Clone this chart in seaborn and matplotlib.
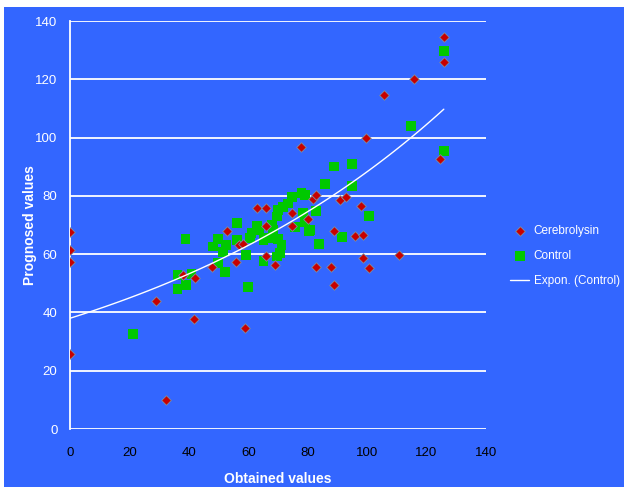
import numpy as np
import pandas as pd
import matplotlib.pyplot as plt
import seaborn as sns

# Cerebrolysin points (obtained, prognosed)
cere_x = [0, 0, 0, 0, 28.8, 32.2, 38.1, 42.1, 41.8, 47.7, 52.7, 56.0, 57.0, 58.3, 58.9,
          62.8, 65.9, 66.0, 69.0, 66.0, 74.7, 74.7, 77.9, 80.0, 81.9, 82.8, 82.8, 87.7,
          88.9, 88.9, 90.9, 92.8, 95.8, 97.8, 98.7, 98.7, 99.7, 100.7, 105.8, 110.8,
          115.7, 124.6, 125.8, 125.8]
cere_y = [67.5, 61.3, 57.2, 25.6, 44.0, 10.0, 53.0, 51.7, 37.6, 55.7, 67.9, 57.4, 63.1, 63.4, 34.6,
          75.7, 75.7, 59.4, 56.3, 69.7, 74.2, 69.8, 96.8, 72.2, 78.8, 80.3, 55.5, 55.7,
          49.4, 67.8, 78.5, 79.7, 66.1, 76.5, 66.7, 58.6, 99.9, 55.1, 114.6, 59.7,
          120.2, 92.8, 134.4, 126.0]

# Control points
ctrl_x = [21.1, 36.2, 36.2, 39.0, 40.9, 38.9, 48.2, 49.9, 52.5, 51.6, 49.9, 52.2, 56.1, 56.1,
          59.1, 60.0, 60.6, 61.1, 62.8, 63.7, 65.1, 66.7, 65.1, 67.9, 68.4, 69.6, 70.1, 71.8,
          73.5, 70.1, 71.2, 70.7, 69.6, 74.7, 77.9, 79.0, 75.7, 78.5, 79.1, 80.8, 82.8, 80.5,
          83.9, 85.7, 88.9, 91.6, 94.9, 94.9, 100.6, 114.8, 125.8, 125.8]
ctrl_y = [32.6, 52.8, 47.9, 49.4, 53.2, 65.1, 62.6, 65.1, 63.1, 60.8, 56.9, 53.8, 64.9, 70.8,
          59.7, 48.8, 65.4, 67.2, 69.7, 68.3, 64.9, 65.4, 57.7, 70.0, 68.3, 72.9, 75.2, 76.3,
          77.4, 65.1, 63.1, 60.3, 59.2, 79.7, 81.0, 80.3, 69.4, 74.0, 71.1, 68.3, 74.8, 67.9,
          63.5, 84.2, 90.1, 65.8, 90.9, 83.5, 73.1, 104.1, 129.7, 95.4]

# exponential trendline: y = a * exp(b * x)
trend_a = 38.0
trend_b = 0.00843

x_ticks = [0, 20, 40, 60, 80, 100, 120, 140]
y_ticks = [0, 20, 40, 60, 80, 100, 120, 140]

BLUE = "#3366FF"

cere = pd.DataFrame({"x": cere_x, "y": cere_y})
ctrl = pd.DataFrame({"x": ctrl_x, "y": ctrl_y})
tx = np.linspace(0, max(ctrl_x), 100)
trend = pd.DataFrame({"x": tx, "y": trend_a * np.exp(trend_b * tx)})

sns.set_style("white")
plt.rcParams["font.family"] = ["Liberation Sans", "DejaVu Sans"]

fig = plt.figure(figsize=(6.24, 4.87), dpi=100, facecolor="white")
fig.patches.append(plt.Rectangle((4 / 624, 0), 1, 480 / 487, transform=fig.transFigure,
                                 facecolor=BLUE, edgecolor="none", zorder=-10))
ax = fig.add_axes([70 / 624, 1 - 429 / 487, 416 / 624, 408 / 487])
ax.set_facecolor(BLUE)

sns.scatterplot(data=ctrl, x="x", y="y", ax=ax, marker="s", s=50, color="#00C800",
                edgecolor="none", label="Control", zorder=3)
sns.scatterplot(data=cere, x="x", y="y", ax=ax, marker="D", s=24, color="#C80000",
                edgecolor="#7a8fa8", linewidth=0.6, label="Cerebrolysin", zorder=4)
sns.lineplot(data=trend, x="x", y="y", ax=ax, color="white", linewidth=1.0,
             label="Expon. (Control)", zorder=5)

ax.set_xlim(0, 140)
ax.set_ylim(0, 140)
ax.set_xticks(x_ticks)
ax.set_yticks(y_ticks)
ax.yaxis.grid(True, color="white", linewidth=1.3)
ax.xaxis.grid(False)
ax.set_axisbelow(True)
for side in ["top", "right", "bottom"]:
    ax.spines[side].set_visible(False)
ax.spines["left"].set_color("white")
ax.spines["left"].set_linewidth(1.3)
ax.tick_params(axis="both", length=0, labelsize=9.5)
ax.tick_params(axis="x", colors="black", pad=13)
ax.tick_params(axis="y", colors="white", pad=9)

ax.set_xlabel("Obtained values", color="white", fontsize=10, fontweight="bold", labelpad=9)
ax.set_ylabel("Prognosed values", color="white", fontsize=10, fontweight="bold", labelpad=-1)

handles, labels = ax.get_legend_handles_labels()
order = [labels.index("Cerebrolysin"), labels.index("Control"), labels.index("Expon. (Control)")]
leg = ax.legend([handles[i] for i in order], [labels[i] for i in order],
                loc="center left", bbox_to_anchor=(502 / 624, 1 - 256 / 487),
                bbox_transform=fig.transFigure, frameon=False, fontsize=8.5,
                handlelength=1.6, handletextpad=0.4, labelspacing=1.1, borderpad=0.2)
for t in leg.get_texts():
    t.set_color("white")

fig.savefig("out.png", dpi=100, facecolor=fig.get_facecolor())
